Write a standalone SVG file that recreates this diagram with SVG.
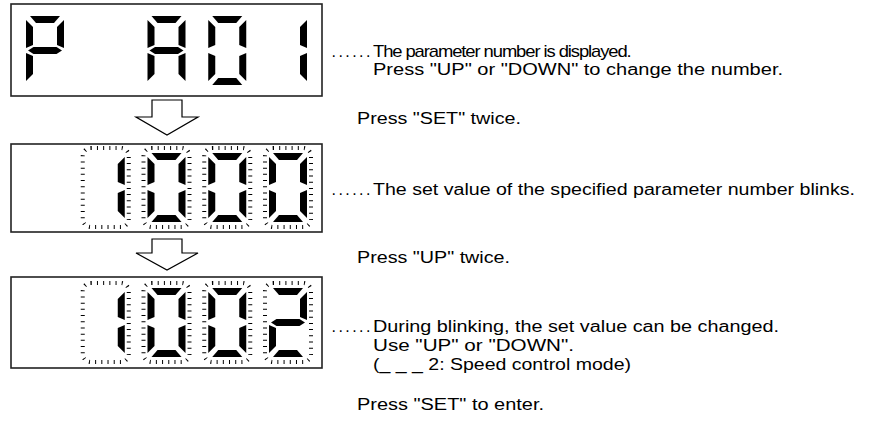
<svg xmlns="http://www.w3.org/2000/svg" xmlns:xlink="http://www.w3.org/1999/xlink" width="869" height="421" viewBox="0 0 869 421">
<style>
.box{fill:#fff;stroke:#222;stroke-width:1.6}
.seg{fill:#000}
.blink{fill:none;stroke:#000;stroke-width:4;stroke-dasharray:1 5.2}
.arrow{fill:#fff;stroke:#000;stroke-width:1.2;stroke-linejoin:miter}
text{font-family:"Liberation Sans",Arial,sans-serif;font-size:16px;fill:#000}
.dots{letter-spacing:2.45px}
</style>
<defs>
<polygon id="a" class="seg" points="4,0 34,0 28,7 10,7"/>
<polygon id="b" class="seg" points="38,4 38,32 31,29 31,11"/>
<polygon id="c" class="seg" points="38,37 38,65 31,58 31,40"/>
<polygon id="d" class="seg" points="10,62 28,62 34,69 4,69"/>
<polygon id="e" class="seg" points="0,37 7,40 7,58 0,65"/>
<polygon id="f" class="seg" points="0,4 7,11 7,29 0,32"/>
<polygon id="g" class="seg" points="2,34.5 7.5,31 30.5,31 36,34.5 30.5,38 7.5,38"/>
<g id="dP"><use xlink:href="#a"/><use xlink:href="#b"/><use xlink:href="#f"/><use xlink:href="#g"/><use xlink:href="#e"/></g>
<g id="dA"><use xlink:href="#a"/><use xlink:href="#b"/><use xlink:href="#c"/><use xlink:href="#e"/><use xlink:href="#f"/><use xlink:href="#g"/></g>
<g id="d0"><use xlink:href="#a"/><use xlink:href="#b"/><use xlink:href="#c"/><use xlink:href="#d"/><use xlink:href="#e"/><use xlink:href="#f"/></g>
<g id="d1"><use xlink:href="#b"/><use xlink:href="#c"/></g>
<g id="d2"><use xlink:href="#a"/><use xlink:href="#b"/><use xlink:href="#g"/><use xlink:href="#e"/><use xlink:href="#d"/></g>
<rect id="glow" class="blink" x="-4" y="-5" width="46" height="79" rx="8"/>
</defs>

<g id="display1">
<rect class="box" x="11" y="4" width="311" height="92"/>
<use xlink:href="#dP" x="26" y="16"/>
<use xlink:href="#dA" x="147.5" y="16"/>
<use xlink:href="#d0" x="208.25" y="16"/>
<use xlink:href="#d1" x="269" y="16"/>
</g>

<g id="display2">
<rect class="box" x="11" y="144" width="311" height="88"/>
<use xlink:href="#glow" x="86.75" y="153"/>
<use xlink:href="#glow" x="147.5" y="153"/>
<use xlink:href="#glow" x="208.25" y="153"/>
<use xlink:href="#glow" x="269" y="153"/>
<use xlink:href="#d1" x="86.75" y="153"/>
<use xlink:href="#d0" x="147.5" y="153"/>
<use xlink:href="#d0" x="208.25" y="153"/>
<use xlink:href="#d0" x="269" y="153"/>
</g>

<g id="display3">
<rect class="box" x="11" y="277" width="311" height="91"/>
<use xlink:href="#glow" x="86.75" y="288"/>
<use xlink:href="#glow" x="147.5" y="288"/>
<use xlink:href="#glow" x="208.25" y="288"/>
<use xlink:href="#glow" x="269" y="288"/>
<use xlink:href="#d1" x="86.75" y="288"/>
<use xlink:href="#d0" x="147.5" y="288"/>
<use xlink:href="#d0" x="208.25" y="288"/>
<use xlink:href="#d2" x="269" y="288"/>
</g>

<g id="connectors">
<polygon class="arrow" points="152,100 182,100 182,117 198,117 167,135 136,117 152,117"/>
<polygon class="arrow" points="152,239 182,239 182,253 198,253 167,270 136,253 152,253"/>
</g>

<g id="labels">
<text class="dots" x="331.5" y="57">......</text>
<text transform="translate(373,57) scale(1.15,1)" x="0" y="0" textLength="225" lengthAdjust="spacing">The parameter number is displayed.</text>
<text x="373" y="75" textLength="410" lengthAdjust="spacingAndGlyphs">Press "UP" or "DOWN" to change the number.</text>
<text x="357" y="124" textLength="164" lengthAdjust="spacingAndGlyphs">Press "SET" twice.</text>
<text class="dots" x="331.5" y="195">......</text>
<text x="373" y="195" textLength="482" lengthAdjust="spacingAndGlyphs">The set value of the specified parameter number blinks.</text>
<text x="357" y="263" textLength="153" lengthAdjust="spacingAndGlyphs">Press "UP" twice.</text>
<text class="dots" x="331.5" y="332">......</text>
<text x="373" y="332" textLength="406" lengthAdjust="spacingAndGlyphs">During blinking, the set value can be changed.</text>
<text x="373" y="351" textLength="201" lengthAdjust="spacingAndGlyphs">Use "UP" or "DOWN".</text>
<text x="373" y="370" textLength="258" lengthAdjust="spacingAndGlyphs">(_ _ _ 2: Speed control mode)</text>
<text x="357" y="410" textLength="187" lengthAdjust="spacingAndGlyphs">Press "SET" to enter.</text>
</g>
</svg>
